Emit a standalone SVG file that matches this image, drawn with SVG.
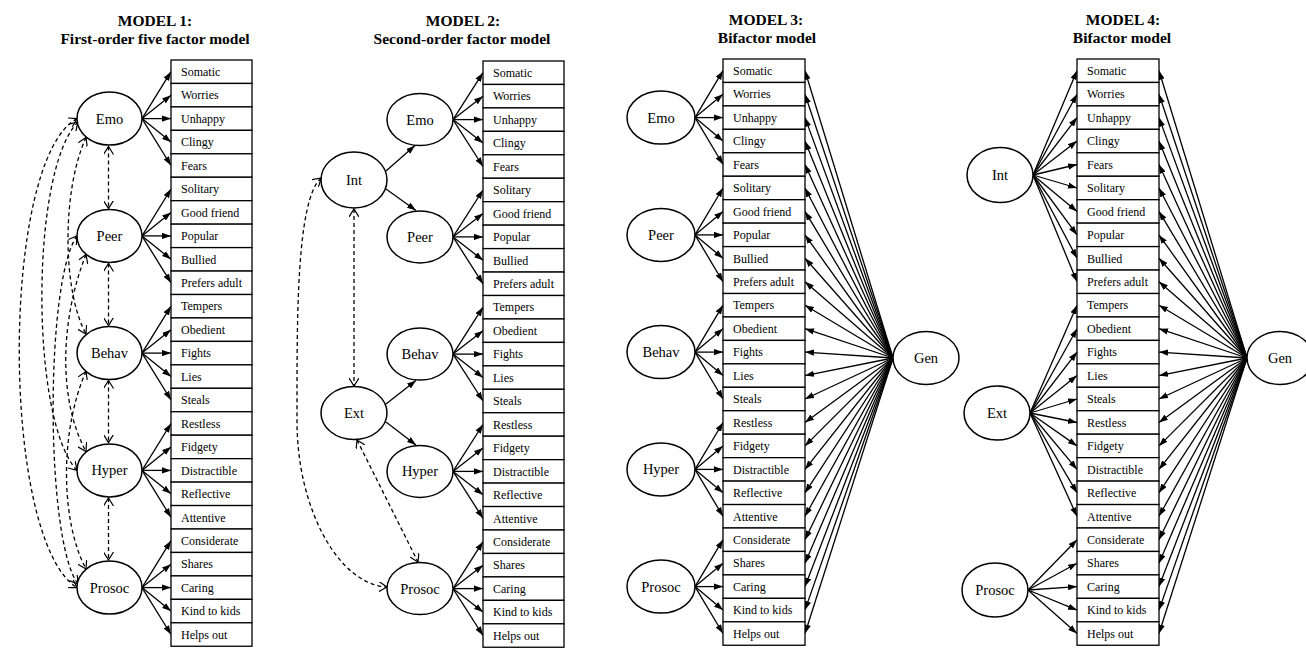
<svg xmlns="http://www.w3.org/2000/svg" width="1306" height="649" viewBox="0 0 1306 649">
<style>
.bg{fill:#fff}
.box rect{fill:#fff;stroke:#000;stroke-width:1.3}
.box text{font-family:"Liberation Serif","Times New Roman",serif;font-size:12px;fill:#000}
.lat ellipse{fill:#fff;stroke:#000;stroke-width:1.5}
.lat text{font-family:"Liberation Serif","Times New Roman",serif;font-size:14.5px;fill:#000;text-anchor:middle}
.title{font-family:"Liberation Serif","Times New Roman",serif;font-size:15.5px;font-weight:bold;text-anchor:middle;fill:#000}
.sol line,.sol path{stroke:#000;stroke-width:1.3;fill:none;marker-end:url(#ah)}
.dash line,.dash path{stroke:#000;stroke-width:1.3;fill:none;stroke-dasharray:4 3;marker-start:url(#ov);marker-end:url(#ov)}
</style>
<defs>
<marker id="ah" viewBox="0 0 10 7" refX="10" refY="3.5" markerWidth="9" markerHeight="6.5" markerUnits="userSpaceOnUse" orient="auto"><path d="M0,0 L10,3.5 L0,7 z" fill="#000"/></marker>
<marker id="ov" viewBox="0 0 9 10" refX="8" refY="5" markerWidth="9" markerHeight="10" markerUnits="userSpaceOnUse" orient="auto-start-reverse"><path d="M0,0 L8,5 L0,10" fill="none" stroke="#000" stroke-width="1.2"/></marker>
</defs>
<rect class="bg" x="0" y="0" width="1306" height="649"/>

<g id="titles">
<text class="title" x="155" y="26">MODEL 1:</text>
<text class="title" x="155" y="44">First-order five factor model</text>
<text class="title" x="463" y="26">MODEL 2:</text>
<text class="title" x="462" y="44">Second-order factor model</text>
<text class="title" x="766" y="25">MODEL 3:</text>
<text class="title" x="767" y="43">Bifactor model</text>
<text class="title" x="1123" y="25">MODEL 4:</text>
<text class="title" x="1122" y="43">Bifactor model</text>
</g>

<!-- MODEL 1 -->
<g id="model1" transform="translate(0,60)">
<g id="m1-connectors">
<g class="sol">
<line x1="142" y1="58.6" x2="171" y2="11.7"/><line x1="142" y1="58.6" x2="171" y2="35.2"/><line x1="142" y1="58.6" x2="171" y2="58.6"/><line x1="142" y1="58.6" x2="171" y2="82.1"/><line x1="142" y1="58.6" x2="171" y2="105.5"/>
<line x1="142" y1="175.9" x2="171" y2="129"/><line x1="142" y1="175.9" x2="171" y2="152.4"/><line x1="142" y1="175.9" x2="171" y2="175.9"/><line x1="142" y1="175.9" x2="171" y2="199.3"/><line x1="142" y1="175.9" x2="171" y2="222.8"/>
<line x1="142" y1="293.1" x2="171" y2="246.2"/><line x1="142" y1="293.1" x2="171" y2="269.7"/><line x1="142" y1="293.1" x2="171" y2="293.1"/><line x1="142" y1="293.1" x2="171" y2="316.6"/><line x1="142" y1="293.1" x2="171" y2="340"/>
<line x1="142" y1="410.4" x2="171" y2="363.5"/><line x1="142" y1="410.4" x2="171" y2="386.9"/><line x1="142" y1="410.4" x2="171" y2="410.4"/><line x1="142" y1="410.4" x2="171" y2="433.8"/><line x1="142" y1="410.4" x2="171" y2="457.3"/>
<line x1="142" y1="527.6" x2="171" y2="480.7"/><line x1="142" y1="527.6" x2="171" y2="504.2"/><line x1="142" y1="527.6" x2="171" y2="527.6"/><line x1="142" y1="527.6" x2="171" y2="551.1"/><line x1="142" y1="527.6" x2="171" y2="574.5"/>
</g>
<g class="dash">
<line x1="108.5" y1="86.5" x2="108.5" y2="148.5"/>
<line x1="108.5" y1="203.5" x2="108.5" y2="265.5"/>
<line x1="108.5" y1="320.5" x2="108.5" y2="382.5"/>
<line x1="108.5" y1="438" x2="108.5" y2="500"/>
<path d="M77,58.6 C0,100 0,480 77,527.6"/>
<path d="M78,62 C30,110 30,360 77,410.4"/>
<path d="M86,77.5 C62,130 62,230 86,274"/>
<path d="M77,175.9 C45,220 45,480 78,524"/>
<path d="M86,194.5 C60,260 58,340 86,391.5"/>
<path d="M86,311.5 C60,370 60,460 86,509"/>
</g>
</g>
<g id="m1-emo" class="lat"><ellipse cx="109.5" cy="58.6" rx="32.5" ry="26.5"/><text x="109.5" y="63.6">Emo</text></g>
<g id="m1-peer" class="lat"><ellipse cx="109.5" cy="175.9" rx="32.5" ry="26.5"/><text x="109.5" y="180.9">Peer</text></g>
<g id="m1-behav" class="lat"><ellipse cx="109.5" cy="293.1" rx="32.5" ry="26.5"/><text x="109.5" y="298.1">Behav</text></g>
<g id="m1-hyper" class="lat"><ellipse cx="109.5" cy="410.4" rx="32.5" ry="26.5"/><text x="109.5" y="415.4">Hyper</text></g>
<g id="m1-prosoc" class="lat"><ellipse cx="109.5" cy="527.6" rx="32.5" ry="26.5"/><text x="109.5" y="532.6">Prosoc</text></g>
<g id="m1-i0" class="box"><rect x="171" y="0" width="81" height="23.45"/><text x="181" y="15.9">Somatic</text></g>
<g id="m1-i1" class="box"><rect x="171" y="23.45" width="81" height="23.45"/><text x="181" y="39.4">Worries</text></g>
<g id="m1-i2" class="box"><rect x="171" y="46.9" width="81" height="23.45"/><text x="181" y="62.8">Unhappy</text></g>
<g id="m1-i3" class="box"><rect x="171" y="70.35" width="81" height="23.45"/><text x="181" y="86.3">Clingy</text></g>
<g id="m1-i4" class="box"><rect x="171" y="93.8" width="81" height="23.45"/><text x="181" y="109.7">Fears</text></g>
<g id="m1-i5" class="box"><rect x="171" y="117.25" width="81" height="23.45"/><text x="181" y="133.2">Solitary</text></g>
<g id="m1-i6" class="box"><rect x="171" y="140.7" width="81" height="23.45"/><text x="181" y="156.6">Good friend</text></g>
<g id="m1-i7" class="box"><rect x="171" y="164.15" width="81" height="23.45"/><text x="181" y="180.1">Popular</text></g>
<g id="m1-i8" class="box"><rect x="171" y="187.6" width="81" height="23.45"/><text x="181" y="203.5">Bullied</text></g>
<g id="m1-i9" class="box"><rect x="171" y="211.05" width="81" height="23.45"/><text x="181" y="227">Prefers adult</text></g>
<g id="m1-i10" class="box"><rect x="171" y="234.5" width="81" height="23.45"/><text x="181" y="250.4">Tempers</text></g>
<g id="m1-i11" class="box"><rect x="171" y="257.95" width="81" height="23.45"/><text x="181" y="273.9">Obedient</text></g>
<g id="m1-i12" class="box"><rect x="171" y="281.4" width="81" height="23.45"/><text x="181" y="297.3">Fights</text></g>
<g id="m1-i13" class="box"><rect x="171" y="304.85" width="81" height="23.45"/><text x="181" y="320.8">Lies</text></g>
<g id="m1-i14" class="box"><rect x="171" y="328.3" width="81" height="23.45"/><text x="181" y="344.2">Steals</text></g>
<g id="m1-i15" class="box"><rect x="171" y="351.75" width="81" height="23.45"/><text x="181" y="367.7">Restless</text></g>
<g id="m1-i16" class="box"><rect x="171" y="375.2" width="81" height="23.45"/><text x="181" y="391.1">Fidgety</text></g>
<g id="m1-i17" class="box"><rect x="171" y="398.65" width="81" height="23.45"/><text x="181" y="414.6">Distractible</text></g>
<g id="m1-i18" class="box"><rect x="171" y="422.1" width="81" height="23.45"/><text x="181" y="438">Reflective</text></g>
<g id="m1-i19" class="box"><rect x="171" y="445.55" width="81" height="23.45"/><text x="181" y="461.5">Attentive</text></g>
<g id="m1-i20" class="box"><rect x="171" y="469" width="81" height="23.45"/><text x="181" y="484.9">Considerate</text></g>
<g id="m1-i21" class="box"><rect x="171" y="492.45" width="81" height="23.45"/><text x="181" y="508.4">Shares</text></g>
<g id="m1-i22" class="box"><rect x="171" y="515.9" width="81" height="23.45"/><text x="181" y="531.8">Caring</text></g>
<g id="m1-i23" class="box"><rect x="171" y="539.35" width="81" height="23.45"/><text x="181" y="555.3">Kind to kids</text></g>
<g id="m1-i24" class="box"><rect x="171" y="562.8" width="81" height="23.45"/><text x="181" y="578.7">Helps out</text></g>
</g>

<!-- MODEL 2 -->
<g id="model2" transform="translate(0,61)">
<g id="m2-connectors">
<g class="sol">
<line x1="453" y1="58.6" x2="483" y2="11.7"/><line x1="453" y1="58.6" x2="483" y2="35.2"/><line x1="453" y1="58.6" x2="483" y2="58.6"/><line x1="453" y1="58.6" x2="483" y2="82.1"/><line x1="453" y1="58.6" x2="483" y2="105.5"/>
<line x1="453" y1="175.9" x2="483" y2="129"/><line x1="453" y1="175.9" x2="483" y2="152.4"/><line x1="453" y1="175.9" x2="483" y2="175.9"/><line x1="453" y1="175.9" x2="483" y2="199.3"/><line x1="453" y1="175.9" x2="483" y2="222.8"/>
<line x1="453" y1="293.1" x2="483" y2="246.2"/><line x1="453" y1="293.1" x2="483" y2="269.7"/><line x1="453" y1="293.1" x2="483" y2="293.1"/><line x1="453" y1="293.1" x2="483" y2="316.6"/><line x1="453" y1="293.1" x2="483" y2="340"/>
<line x1="453" y1="410.4" x2="483" y2="363.5"/><line x1="453" y1="410.4" x2="483" y2="386.9"/><line x1="453" y1="410.4" x2="483" y2="410.4"/><line x1="453" y1="410.4" x2="483" y2="433.8"/><line x1="453" y1="410.4" x2="483" y2="457.3"/>
<line x1="453" y1="527.6" x2="483" y2="480.7"/><line x1="453" y1="527.6" x2="483" y2="504.2"/><line x1="453" y1="527.6" x2="483" y2="527.6"/><line x1="453" y1="527.6" x2="483" y2="551.1"/><line x1="453" y1="527.6" x2="483" y2="574.5"/>
<line x1="386" y1="110" x2="415" y2="84.5"/>
<line x1="386" y1="128" x2="416" y2="149.5"/>
<line x1="386" y1="343" x2="416" y2="319.5"/>
<line x1="386" y1="361" x2="416" y2="384"/>
</g>
<g class="dash">
<line x1="354" y1="148" x2="354" y2="325"/>
<line x1="357" y1="379" x2="418" y2="501"/>
<path d="M321,117 C296,140 297,260 297,360 C297,450 340,524 387,526"/>
</g>
</g>
<g id="m2-int" class="lat"><ellipse cx="354" cy="119" rx="33" ry="28"/><text x="354" y="124">Int</text></g>
<g id="m2-ext" class="lat"><ellipse cx="354" cy="352" rx="33" ry="26.5"/><text x="354" y="357">Ext</text></g>
<g id="m2-emo" class="lat"><ellipse cx="420" cy="58.6" rx="33" ry="26"/><text x="420" y="63.6">Emo</text></g>
<g id="m2-peer" class="lat"><ellipse cx="420" cy="175.9" rx="33" ry="26"/><text x="420" y="180.9">Peer</text></g>
<g id="m2-behav" class="lat"><ellipse cx="420" cy="293.1" rx="33" ry="26"/><text x="420" y="298.1">Behav</text></g>
<g id="m2-hyper" class="lat"><ellipse cx="420" cy="410.4" rx="33" ry="26"/><text x="420" y="415.4">Hyper</text></g>
<g id="m2-prosoc" class="lat"><ellipse cx="420" cy="527.6" rx="33" ry="26"/><text x="420" y="532.6">Prosoc</text></g>
<g id="m2-i0" class="box"><rect x="483" y="0" width="81" height="23.45"/><text x="493" y="15.9">Somatic</text></g>
<g id="m2-i1" class="box"><rect x="483" y="23.45" width="81" height="23.45"/><text x="493" y="39.4">Worries</text></g>
<g id="m2-i2" class="box"><rect x="483" y="46.9" width="81" height="23.45"/><text x="493" y="62.8">Unhappy</text></g>
<g id="m2-i3" class="box"><rect x="483" y="70.35" width="81" height="23.45"/><text x="493" y="86.3">Clingy</text></g>
<g id="m2-i4" class="box"><rect x="483" y="93.8" width="81" height="23.45"/><text x="493" y="109.7">Fears</text></g>
<g id="m2-i5" class="box"><rect x="483" y="117.25" width="81" height="23.45"/><text x="493" y="133.2">Solitary</text></g>
<g id="m2-i6" class="box"><rect x="483" y="140.7" width="81" height="23.45"/><text x="493" y="156.6">Good friend</text></g>
<g id="m2-i7" class="box"><rect x="483" y="164.15" width="81" height="23.45"/><text x="493" y="180.1">Popular</text></g>
<g id="m2-i8" class="box"><rect x="483" y="187.6" width="81" height="23.45"/><text x="493" y="203.5">Bullied</text></g>
<g id="m2-i9" class="box"><rect x="483" y="211.05" width="81" height="23.45"/><text x="493" y="227">Prefers adult</text></g>
<g id="m2-i10" class="box"><rect x="483" y="234.5" width="81" height="23.45"/><text x="493" y="250.4">Tempers</text></g>
<g id="m2-i11" class="box"><rect x="483" y="257.95" width="81" height="23.45"/><text x="493" y="273.9">Obedient</text></g>
<g id="m2-i12" class="box"><rect x="483" y="281.4" width="81" height="23.45"/><text x="493" y="297.3">Fights</text></g>
<g id="m2-i13" class="box"><rect x="483" y="304.85" width="81" height="23.45"/><text x="493" y="320.8">Lies</text></g>
<g id="m2-i14" class="box"><rect x="483" y="328.3" width="81" height="23.45"/><text x="493" y="344.2">Steals</text></g>
<g id="m2-i15" class="box"><rect x="483" y="351.75" width="81" height="23.45"/><text x="493" y="367.7">Restless</text></g>
<g id="m2-i16" class="box"><rect x="483" y="375.2" width="81" height="23.45"/><text x="493" y="391.1">Fidgety</text></g>
<g id="m2-i17" class="box"><rect x="483" y="398.65" width="81" height="23.45"/><text x="493" y="414.6">Distractible</text></g>
<g id="m2-i18" class="box"><rect x="483" y="422.1" width="81" height="23.45"/><text x="493" y="438">Reflective</text></g>
<g id="m2-i19" class="box"><rect x="483" y="445.55" width="81" height="23.45"/><text x="493" y="461.5">Attentive</text></g>
<g id="m2-i20" class="box"><rect x="483" y="469" width="81" height="23.45"/><text x="493" y="484.9">Considerate</text></g>
<g id="m2-i21" class="box"><rect x="483" y="492.45" width="81" height="23.45"/><text x="493" y="508.4">Shares</text></g>
<g id="m2-i22" class="box"><rect x="483" y="515.9" width="81" height="23.45"/><text x="493" y="531.8">Caring</text></g>
<g id="m2-i23" class="box"><rect x="483" y="539.35" width="81" height="23.45"/><text x="493" y="555.3">Kind to kids</text></g>
<g id="m2-i24" class="box"><rect x="483" y="562.8" width="81" height="23.45"/><text x="493" y="578.7">Helps out</text></g>
</g>

<!-- MODEL 3 -->
<g id="model3" transform="translate(0,59)">
<g id="m3-connectors">
<g class="sol">
<line x1="695" y1="58.6" x2="723" y2="11.7"/><line x1="695" y1="58.6" x2="723" y2="35.2"/><line x1="695" y1="58.6" x2="723" y2="58.6"/><line x1="695" y1="58.6" x2="723" y2="82.1"/><line x1="695" y1="58.6" x2="723" y2="105.5"/>
<line x1="695" y1="175.9" x2="723" y2="129"/><line x1="695" y1="175.9" x2="723" y2="152.4"/><line x1="695" y1="175.9" x2="723" y2="175.9"/><line x1="695" y1="175.9" x2="723" y2="199.3"/><line x1="695" y1="175.9" x2="723" y2="222.8"/>
<line x1="695" y1="293.1" x2="723" y2="246.2"/><line x1="695" y1="293.1" x2="723" y2="269.7"/><line x1="695" y1="293.1" x2="723" y2="293.1"/><line x1="695" y1="293.1" x2="723" y2="316.6"/><line x1="695" y1="293.1" x2="723" y2="340"/>
<line x1="695" y1="410.4" x2="723" y2="363.5"/><line x1="695" y1="410.4" x2="723" y2="386.9"/><line x1="695" y1="410.4" x2="723" y2="410.4"/><line x1="695" y1="410.4" x2="723" y2="433.8"/><line x1="695" y1="410.4" x2="723" y2="457.3"/>
<line x1="695" y1="527.6" x2="723" y2="480.7"/><line x1="695" y1="527.6" x2="723" y2="504.2"/><line x1="695" y1="527.6" x2="723" y2="527.6"/><line x1="695" y1="527.6" x2="723" y2="551.1"/><line x1="695" y1="527.6" x2="723" y2="574.5"/>
<line x1="893" y1="299" x2="805" y2="11.7"/><line x1="893" y1="299" x2="805" y2="35.2"/><line x1="893" y1="299" x2="805" y2="58.6"/><line x1="893" y1="299" x2="805" y2="82.1"/><line x1="893" y1="299" x2="805" y2="105.5"/>
<line x1="893" y1="299" x2="805" y2="129"/><line x1="893" y1="299" x2="805" y2="152.4"/><line x1="893" y1="299" x2="805" y2="175.9"/><line x1="893" y1="299" x2="805" y2="199.3"/><line x1="893" y1="299" x2="805" y2="222.8"/>
<line x1="893" y1="299" x2="805" y2="246.2"/><line x1="893" y1="299" x2="805" y2="269.7"/><line x1="893" y1="299" x2="805" y2="293.1"/><line x1="893" y1="299" x2="805" y2="316.6"/><line x1="893" y1="299" x2="805" y2="340"/>
<line x1="893" y1="299" x2="805" y2="363.5"/><line x1="893" y1="299" x2="805" y2="386.9"/><line x1="893" y1="299" x2="805" y2="410.4"/><line x1="893" y1="299" x2="805" y2="433.8"/><line x1="893" y1="299" x2="805" y2="457.3"/>
<line x1="893" y1="299" x2="805" y2="480.7"/><line x1="893" y1="299" x2="805" y2="504.2"/><line x1="893" y1="299" x2="805" y2="527.6"/><line x1="893" y1="299" x2="805" y2="551.1"/><line x1="893" y1="299" x2="805" y2="574.5"/>
</g>
</g>
<g id="m3-emo" class="lat"><ellipse cx="661" cy="58.6" rx="34" ry="26.5"/><text x="661" y="63.6">Emo</text></g>
<g id="m3-peer" class="lat"><ellipse cx="661" cy="175.9" rx="34" ry="26.5"/><text x="661" y="180.9">Peer</text></g>
<g id="m3-behav" class="lat"><ellipse cx="661" cy="293.1" rx="34" ry="26.5"/><text x="661" y="298.1">Behav</text></g>
<g id="m3-hyper" class="lat"><ellipse cx="661" cy="410.4" rx="34" ry="26.5"/><text x="661" y="415.4">Hyper</text></g>
<g id="m3-prosoc" class="lat"><ellipse cx="661" cy="527.6" rx="34" ry="26.5"/><text x="661" y="532.6">Prosoc</text></g>
<g id="m3-gen" class="lat"><ellipse cx="926" cy="299" rx="33" ry="26.5"/><text x="926" y="304">Gen</text></g>
<g id="m3-i0" class="box"><rect x="723" y="0" width="82" height="23.45"/><text x="733" y="15.9">Somatic</text></g>
<g id="m3-i1" class="box"><rect x="723" y="23.45" width="82" height="23.45"/><text x="733" y="39.4">Worries</text></g>
<g id="m3-i2" class="box"><rect x="723" y="46.9" width="82" height="23.45"/><text x="733" y="62.8">Unhappy</text></g>
<g id="m3-i3" class="box"><rect x="723" y="70.35" width="82" height="23.45"/><text x="733" y="86.3">Clingy</text></g>
<g id="m3-i4" class="box"><rect x="723" y="93.8" width="82" height="23.45"/><text x="733" y="109.7">Fears</text></g>
<g id="m3-i5" class="box"><rect x="723" y="117.25" width="82" height="23.45"/><text x="733" y="133.2">Solitary</text></g>
<g id="m3-i6" class="box"><rect x="723" y="140.7" width="82" height="23.45"/><text x="733" y="156.6">Good friend</text></g>
<g id="m3-i7" class="box"><rect x="723" y="164.15" width="82" height="23.45"/><text x="733" y="180.1">Popular</text></g>
<g id="m3-i8" class="box"><rect x="723" y="187.6" width="82" height="23.45"/><text x="733" y="203.5">Bullied</text></g>
<g id="m3-i9" class="box"><rect x="723" y="211.05" width="82" height="23.45"/><text x="733" y="227">Prefers adult</text></g>
<g id="m3-i10" class="box"><rect x="723" y="234.5" width="82" height="23.45"/><text x="733" y="250.4">Tempers</text></g>
<g id="m3-i11" class="box"><rect x="723" y="257.95" width="82" height="23.45"/><text x="733" y="273.9">Obedient</text></g>
<g id="m3-i12" class="box"><rect x="723" y="281.4" width="82" height="23.45"/><text x="733" y="297.3">Fights</text></g>
<g id="m3-i13" class="box"><rect x="723" y="304.85" width="82" height="23.45"/><text x="733" y="320.8">Lies</text></g>
<g id="m3-i14" class="box"><rect x="723" y="328.3" width="82" height="23.45"/><text x="733" y="344.2">Steals</text></g>
<g id="m3-i15" class="box"><rect x="723" y="351.75" width="82" height="23.45"/><text x="733" y="367.7">Restless</text></g>
<g id="m3-i16" class="box"><rect x="723" y="375.2" width="82" height="23.45"/><text x="733" y="391.1">Fidgety</text></g>
<g id="m3-i17" class="box"><rect x="723" y="398.65" width="82" height="23.45"/><text x="733" y="414.6">Distractible</text></g>
<g id="m3-i18" class="box"><rect x="723" y="422.1" width="82" height="23.45"/><text x="733" y="438">Reflective</text></g>
<g id="m3-i19" class="box"><rect x="723" y="445.55" width="82" height="23.45"/><text x="733" y="461.5">Attentive</text></g>
<g id="m3-i20" class="box"><rect x="723" y="469" width="82" height="23.45"/><text x="733" y="484.9">Considerate</text></g>
<g id="m3-i21" class="box"><rect x="723" y="492.45" width="82" height="23.45"/><text x="733" y="508.4">Shares</text></g>
<g id="m3-i22" class="box"><rect x="723" y="515.9" width="82" height="23.45"/><text x="733" y="531.8">Caring</text></g>
<g id="m3-i23" class="box"><rect x="723" y="539.35" width="82" height="23.45"/><text x="733" y="555.3">Kind to kids</text></g>
<g id="m3-i24" class="box"><rect x="723" y="562.8" width="82" height="23.45"/><text x="733" y="578.7">Helps out</text></g>
</g>

<!-- MODEL 4 -->
<g id="model4" transform="translate(0,59)">
<g id="m4-connectors">
<g class="sol">
<line x1="1033" y1="116" x2="1077" y2="11.7"/><line x1="1033" y1="116" x2="1077" y2="35.2"/><line x1="1033" y1="116" x2="1077" y2="58.6"/><line x1="1033" y1="116" x2="1077" y2="82.1"/><line x1="1033" y1="116" x2="1077" y2="105.5"/>
<line x1="1033" y1="116" x2="1077" y2="129"/><line x1="1033" y1="116" x2="1077" y2="152.4"/><line x1="1033" y1="116" x2="1077" y2="175.9"/><line x1="1033" y1="116" x2="1077" y2="199.3"/><line x1="1033" y1="116" x2="1077" y2="222.8"/>
<line x1="1030" y1="354" x2="1077" y2="246.2"/><line x1="1030" y1="354" x2="1077" y2="269.7"/><line x1="1030" y1="354" x2="1077" y2="293.1"/><line x1="1030" y1="354" x2="1077" y2="316.6"/><line x1="1030" y1="354" x2="1077" y2="340"/>
<line x1="1030" y1="354" x2="1077" y2="363.5"/><line x1="1030" y1="354" x2="1077" y2="386.9"/><line x1="1030" y1="354" x2="1077" y2="410.4"/><line x1="1030" y1="354" x2="1077" y2="433.8"/><line x1="1030" y1="354" x2="1077" y2="457.3"/>
<line x1="1028" y1="531" x2="1077" y2="480.7"/><line x1="1028" y1="531" x2="1077" y2="504.2"/><line x1="1028" y1="531" x2="1077" y2="527.6"/><line x1="1028" y1="531" x2="1077" y2="551.1"/><line x1="1028" y1="531" x2="1077" y2="574.5"/>
<line x1="1247" y1="299" x2="1159" y2="11.7"/><line x1="1247" y1="299" x2="1159" y2="35.2"/><line x1="1247" y1="299" x2="1159" y2="58.6"/><line x1="1247" y1="299" x2="1159" y2="82.1"/><line x1="1247" y1="299" x2="1159" y2="105.5"/>
<line x1="1247" y1="299" x2="1159" y2="129"/><line x1="1247" y1="299" x2="1159" y2="152.4"/><line x1="1247" y1="299" x2="1159" y2="175.9"/><line x1="1247" y1="299" x2="1159" y2="199.3"/><line x1="1247" y1="299" x2="1159" y2="222.8"/>
<line x1="1247" y1="299" x2="1159" y2="246.2"/><line x1="1247" y1="299" x2="1159" y2="269.7"/><line x1="1247" y1="299" x2="1159" y2="293.1"/><line x1="1247" y1="299" x2="1159" y2="316.6"/><line x1="1247" y1="299" x2="1159" y2="340"/>
<line x1="1247" y1="299" x2="1159" y2="363.5"/><line x1="1247" y1="299" x2="1159" y2="386.9"/><line x1="1247" y1="299" x2="1159" y2="410.4"/><line x1="1247" y1="299" x2="1159" y2="433.8"/><line x1="1247" y1="299" x2="1159" y2="457.3"/>
<line x1="1247" y1="299" x2="1159" y2="480.7"/><line x1="1247" y1="299" x2="1159" y2="504.2"/><line x1="1247" y1="299" x2="1159" y2="527.6"/><line x1="1247" y1="299" x2="1159" y2="551.1"/><line x1="1247" y1="299" x2="1159" y2="574.5"/>
</g>
</g>
<g id="m4-int" class="lat"><ellipse cx="1000" cy="116" rx="33" ry="27.5"/><text x="1000" y="121">Int</text></g>
<g id="m4-ext" class="lat"><ellipse cx="997" cy="354" rx="33" ry="27"/><text x="997" y="359">Ext</text></g>
<g id="m4-prosoc" class="lat"><ellipse cx="995" cy="531" rx="33" ry="27"/><text x="995" y="536">Prosoc</text></g>
<g id="m4-gen" class="lat"><ellipse cx="1280" cy="299" rx="33" ry="26.5"/><text x="1280" y="304">Gen</text></g>
<g id="m4-i0" class="box"><rect x="1077" y="0" width="82" height="23.45"/><text x="1087" y="15.9">Somatic</text></g>
<g id="m4-i1" class="box"><rect x="1077" y="23.45" width="82" height="23.45"/><text x="1087" y="39.4">Worries</text></g>
<g id="m4-i2" class="box"><rect x="1077" y="46.9" width="82" height="23.45"/><text x="1087" y="62.8">Unhappy</text></g>
<g id="m4-i3" class="box"><rect x="1077" y="70.35" width="82" height="23.45"/><text x="1087" y="86.3">Clingy</text></g>
<g id="m4-i4" class="box"><rect x="1077" y="93.8" width="82" height="23.45"/><text x="1087" y="109.7">Fears</text></g>
<g id="m4-i5" class="box"><rect x="1077" y="117.25" width="82" height="23.45"/><text x="1087" y="133.2">Solitary</text></g>
<g id="m4-i6" class="box"><rect x="1077" y="140.7" width="82" height="23.45"/><text x="1087" y="156.6">Good friend</text></g>
<g id="m4-i7" class="box"><rect x="1077" y="164.15" width="82" height="23.45"/><text x="1087" y="180.1">Popular</text></g>
<g id="m4-i8" class="box"><rect x="1077" y="187.6" width="82" height="23.45"/><text x="1087" y="203.5">Bullied</text></g>
<g id="m4-i9" class="box"><rect x="1077" y="211.05" width="82" height="23.45"/><text x="1087" y="227">Prefers adult</text></g>
<g id="m4-i10" class="box"><rect x="1077" y="234.5" width="82" height="23.45"/><text x="1087" y="250.4">Tempers</text></g>
<g id="m4-i11" class="box"><rect x="1077" y="257.95" width="82" height="23.45"/><text x="1087" y="273.9">Obedient</text></g>
<g id="m4-i12" class="box"><rect x="1077" y="281.4" width="82" height="23.45"/><text x="1087" y="297.3">Fights</text></g>
<g id="m4-i13" class="box"><rect x="1077" y="304.85" width="82" height="23.45"/><text x="1087" y="320.8">Lies</text></g>
<g id="m4-i14" class="box"><rect x="1077" y="328.3" width="82" height="23.45"/><text x="1087" y="344.2">Steals</text></g>
<g id="m4-i15" class="box"><rect x="1077" y="351.75" width="82" height="23.45"/><text x="1087" y="367.7">Restless</text></g>
<g id="m4-i16" class="box"><rect x="1077" y="375.2" width="82" height="23.45"/><text x="1087" y="391.1">Fidgety</text></g>
<g id="m4-i17" class="box"><rect x="1077" y="398.65" width="82" height="23.45"/><text x="1087" y="414.6">Distractible</text></g>
<g id="m4-i18" class="box"><rect x="1077" y="422.1" width="82" height="23.45"/><text x="1087" y="438">Reflective</text></g>
<g id="m4-i19" class="box"><rect x="1077" y="445.55" width="82" height="23.45"/><text x="1087" y="461.5">Attentive</text></g>
<g id="m4-i20" class="box"><rect x="1077" y="469" width="82" height="23.45"/><text x="1087" y="484.9">Considerate</text></g>
<g id="m4-i21" class="box"><rect x="1077" y="492.45" width="82" height="23.45"/><text x="1087" y="508.4">Shares</text></g>
<g id="m4-i22" class="box"><rect x="1077" y="515.9" width="82" height="23.45"/><text x="1087" y="531.8">Caring</text></g>
<g id="m4-i23" class="box"><rect x="1077" y="539.35" width="82" height="23.45"/><text x="1087" y="555.3">Kind to kids</text></g>
<g id="m4-i24" class="box"><rect x="1077" y="562.8" width="82" height="23.45"/><text x="1087" y="578.7">Helps out</text></g>
</g>
</svg>
